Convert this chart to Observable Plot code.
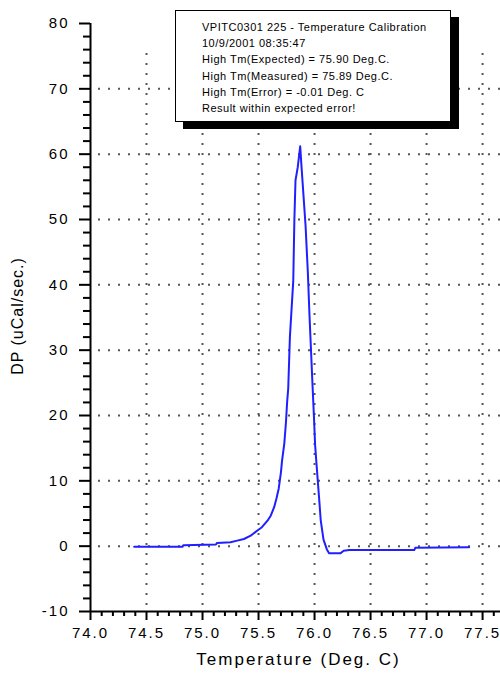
<!DOCTYPE html>
<html>
<head>
<meta charset="utf-8">
<script src="https://cdn.jsdelivr.net/npm/d3@7"></script>
<script src="https://cdn.jsdelivr.net/npm/@observablehq/plot@0.6"></script>
<style>
  html, body { margin: 0; padding: 0; background: #fff; }
  #wrap { position: relative; width: 500px; height: 683px; overflow: hidden; }
  #wrap svg text { letter-spacing: 2px; }
  #ytitle {
    position: absolute; left: 18px; top: 316px; white-space: nowrap;
    transform: translate(-50%, -50%) rotate(-90deg);
    font-family: "Liberation Sans", Arial, sans-serif; font-size: 16px; letter-spacing: 1px; color: #000;
  }
  #note {
    position: absolute; left: 175px; top: 10px; width: 276px; height: 112px;
    border: 1.5px solid #000; background: #fff; box-shadow: 8px 7px 0 #000;
    font-family: "Liberation Sans", Arial, sans-serif; font-size: 11px; color: #000;
    box-sizing: border-box;
  }
  #note div { position: absolute; left: 26px; white-space: nowrap; letter-spacing: 0.5px; }
</style>
</head>
<body>
<div id="wrap"></div>
<script>
// Curve samples
const temperature = [74.39, 74.82, 74.83, 75.12, 75.13, 75.25, 75.31, 75.37, 75.43, 75.49, 75.53, 75.58, 75.61, 75.64, 75.66, 75.68, 75.70, 75.71, 75.73, 75.745, 75.755, 75.765, 75.78, 75.81, 75.82, 75.83, 75.85, 75.872, 75.884, 75.92, 75.94, 75.955, 75.98, 75.995, 76.005, 76.02, 76.04, 76.055, 76.08, 76.11, 76.13, 76.23, 76.26, 76.31, 76.89, 76.90, 77.38];
const dp = [-0.1, -0.1, 0.15, 0.25, 0.5, 0.6, 0.85, 1.1, 1.6, 2.4, 2.9, 3.9, 4.7, 6.0, 7.3, 8.8, 11.3, 13.1, 15.7, 19.0, 22.0, 24.1, 32.0, 40.6, 50.0, 56.0, 58.0, 61.2, 58.0, 49.0, 42.0, 35.3, 25.4, 19.7, 15.5, 12.0, 7.5, 4.0, 1.0, -0.5, -1.1, -1.1, -0.7, -0.6, -0.6, -0.25, -0.15];

// Axis ticks
const xMajorTicks = [74.0, 74.5, 75.0, 75.5, 76.0, 76.5, 77.0, 77.5];
const xMinorTicks = [74.1, 74.2, 74.3, 74.4, 74.6, 74.7, 74.8, 74.9, 75.1, 75.2, 75.3, 75.4, 75.6, 75.7, 75.8, 75.9, 76.1, 76.2, 76.3, 76.4, 76.6, 76.7, 76.8, 76.9, 77.1, 77.2, 77.3, 77.4, 77.6];
const yMajorTicks = [-10, 0, 10, 20, 30, 40, 50, 60, 70, 80];
const yMinorTicks = [-8, -6, -4, -2, 2, 4, 6, 8, 12, 14, 16, 18, 22, 24, 26, 28, 32, 34, 36, 38, 42, 44, 46, 48, 52, 54, 56, 58, 62, 64, 66, 68, 72, 74, 76, 78];
const xGrid = [74.5, 75.0, 75.5, 76.0, 76.5, 77.0, 77.5];
const yGrid = [0, 10, 20, 30, 40, 50, 60, 70];
const xDomain = [74.0, 77.66];
const yDomain = [-10, 80];
const xGridTop = 76.5;

const xTitle = "Temperature (Deg. C)";
const yTitle = "DP (uCal/sec.)";
const noteLines = [
  "VPITC0301 225 - Temperature Calibration",
  "10/9/2001 08:35:47",
  "High Tm(Expected) = 75.90 Deg.C.",
  "High Tm(Measured) = 75.89 Deg.C.",
  "High Tm(Error) = -0.01 Deg. C",
  "Result within expected error!"
];

const curve = temperature.map((t, i) => ({t, v: dp[i]}));

const chart = Plot.plot({
  width: 500,
  height: 683,
  marginLeft: 90,
  marginRight: 0,
  marginTop: 23,
  marginBottom: 72,
  style: {fontFamily: "Liberation Sans, Arial, sans-serif", fontSize: "15px", color: "#000", background: "#fff"},
  x: {domain: xDomain, axis: null},
  y: {domain: yDomain, axis: null},
  marks: [
    Plot.ruleY(yGrid, {x1: xDomain[0], x2: xDomain[1], stroke: "#555", strokeWidth: 2, strokeDasharray: "2,8", strokeDashoffset: 2}),
    Plot.ruleX(xGrid, {y1: yDomain[0], y2: xGridTop, stroke: "#555", strokeWidth: 2, strokeDasharray: "2,8", strokeDashoffset: 4}),
    Plot.line(curve, {x: "t", y: "v", stroke: "#1f1fff", strokeWidth: 2}),
    Plot.ruleX([xDomain[0]], {y1: yDomain[0], y2: yDomain[1], stroke: "#000", strokeWidth: 2}),
    Plot.ruleY([yDomain[0]], {x1: xDomain[0], x2: xDomain[1], stroke: "#000", strokeWidth: 2}),
    Plot.axisY(yMajorTicks, {tickSize: 11, tickPadding: 10, strokeWidth: 2, tickFormat: d => String(d), label: null}),
    Plot.axisY(yMinorTicks, {tickSize: 7, strokeWidth: 2, tickFormat: () => "", label: null}),
    Plot.axisX(xMajorTicks, {tickSize: 9, tickPadding: 7, strokeWidth: 2, tickFormat: d => d.toFixed(1), label: null}),
    Plot.axisX(xMinorTicks, {tickSize: 5, strokeWidth: 2, tickFormat: () => "", label: null}),
    Plot.text([xTitle], {frameAnchor: "bottom", dx: 3, dy: 53, fontSize: 17})
  ]
});

const wrap = document.getElementById("wrap");
wrap.appendChild(chart);
const yt = document.createElement("div");
yt.id = "ytitle";
yt.textContent = yTitle;
wrap.appendChild(yt);
const note = document.createElement("div");
note.id = "note";
noteLines.forEach((s, i) => {
  const d = document.createElement("div");
  d.textContent = s;
  d.style.top = (10 + i * 16.2) + "px";
  note.appendChild(d);
});
wrap.appendChild(note);
</script>
</body>
</html>
